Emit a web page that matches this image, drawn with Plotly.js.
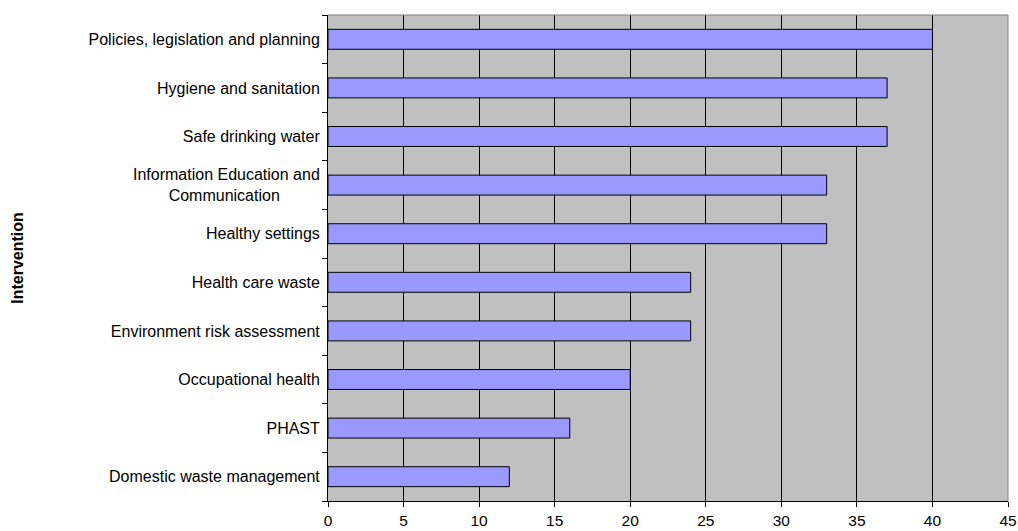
<!DOCTYPE html>
<html>
<head>
<meta charset="utf-8">
<script src="https://cdn.plot.ly/plotly-3.0.1.min.js"></script>
<style>html,body{margin:0;padding:0;background:#fff;}#chart{width:1018px;height:531px;}</style>
</head>
<body>
<div id="chart"></div>
<script>
const categories = [
  "Domestic waste management",
  "PHAST",
  "Occupational health",
  "Environment risk assessment",
  "Health care waste",
  "Healthy settings",
  "Information Education and<br>Communication&nbsp;&nbsp;&nbsp;&nbsp;&nbsp;&nbsp;&nbsp;&nbsp;&nbsp;",
  "Safe drinking water",
  "Hygiene and sanitation",
  "Policies, legislation and planning"
];
const values = [12, 16, 20, 24, 24, 33, 33, 37, 37, 40];
const xTicks = [0, 5, 10, 15, 20, 25, 30, 35, 40, 45];

const trace = {
  type: "bar",
  orientation: "h",
  y: categories,
  x: values,
  marker: {color: "#9999FF", line: {color: "#000000", width: 1}},
  hoverinfo: "x+y"
};

const layout = {
  width: 1018,
  height: 531,
  margin: {l: 328, r: 10, t: 15, b: 30, pad: 0},
  paper_bgcolor: "#ffffff",
  plot_bgcolor: "#C0C0C0",
  bargap: 0.59,
  showlegend: false,
  font: {family: "Liberation Sans, Arial, sans-serif", size: 16, color: "#000"},
  xaxis: {
    range: [0, 45],
    tickvals: xTicks,
    ticktext: xTicks.map(String),
    showgrid: true,
    gridcolor: "#000000",
    gridwidth: 1,
    zeroline: false,
    showline: true,
    linecolor: "#000000",
    linewidth: 1,
    ticks: "outside",
    ticklen: 5,
    tickcolor: "#000000",
    tickfont: {size: 15.5},
    mirror: false
  },
  yaxis: {
    type: "category",
    showgrid: false,
    zeroline: false,
    showline: true,
    linecolor: "#000000",
    linewidth: 1,
    ticks: "outside",
    ticklen: 5,
    tickson: "boundaries",
    tickcolor: "#000000",
    ticklabelstandoff: 4,
    tickfont: {size: 16},
    title: {text: "<b>Intervention</b>", font: {size: 16}, standoff: 60}
  },
  shapes: [
    {type: "line", xref: "paper", yref: "paper", x0: 0, x1: 1, y0: 1, y1: 1, line: {color: "#808080", width: 1}},
    {type: "line", xref: "paper", yref: "paper", x0: 1, x1: 1, y0: 0, y1: 1, line: {color: "#808080", width: 1}}
  ]
};

Plotly.newPlot("chart", [trace], layout, {displayModeBar: false, staticPlot: true});
</script>
</body>
</html>
